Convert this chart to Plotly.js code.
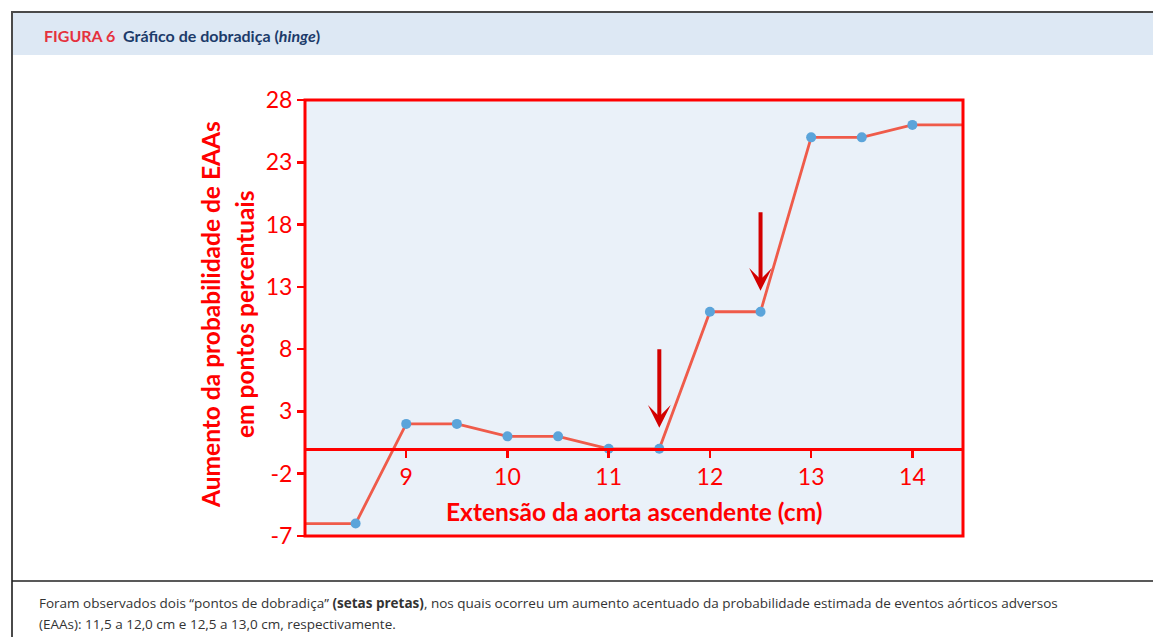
<!DOCTYPE html>
<html>
<head>
<meta charset="utf-8">
<script src="https://cdn.plot.ly/plotly-3.0.1.min.js"></script>
<style>
  html, body { margin: 0; padding: 0; background: #ffffff; }
  #chart { width: 1153px; height: 637px; }
</style>
</head>
<body>
<div id="chart"></div>
<script>
// ---- data ----
const aortaCm = [8.5, 9, 9.5, 10, 10.5, 11, 11.5, 12, 12.5, 13, 13.5, 14];
const probIncrease = [-6, 2, 2, 1, 1, 0, 0, 11, 11, 25, 25, 26];
const hingePointsCm = [11.5, 12.5];
const xRange = [8, 14.5];
const yTickVals = [-7, -2, 3, 8, 13, 18, 23, 28];
const yTickLabels = ['-7', '-2', '3', '8', '13', '18', '23', '28'];
const xTickVals = [9, 10, 11, 12, 13, 14];
const xTickLabels = ['9', '10', '11', '12', '13', '14'];

const figTitleLabel = 'FIGURA 6';
const figTitle = 'Gráfico de dobradiça (<i>hinge</i>)';
const xTitle = 'Extensão da aorta ascendente (cm)';
const yTitleLines = ['Aumento da probabilidade de EAAs', 'em pontos percentuais'];
const captionLines = [
  'Foram observados dois “pontos de dobradiça” <b>(setas pretas)</b>, nos quais ocorreu um aumento acentuado da probabilidade estimada de eventos aórticos adversos',
  '(EAAs): 11,5 a 12,0 cm e 12,5 a 13,0 cm, respectivamente.'
];

// ---- geometry helpers (pixel -> paper) ----
const W = 1153, H = 637;
const M = { l: 305, r: 190, t: 100, b: 101 };
const PW = W - M.l - M.r, PH = H - M.t - M.b;
const px = x => (x - M.l) / PW;
const py = y => (H - M.b - y) / PH;

const RED = '#ff0000';
const FONT = 'Lato, "Open Sans", sans-serif';

// line extends flat to the plot edges
const lineX = [xRange[0]].concat(aortaCm, [xRange[1]]);
const lineY = [probIncrease[0]].concat(probIncrease, [probIncrease[probIncrease.length - 1]]);

const traces = [
  { x: lineX, y: lineY, mode: 'lines', line: { color: '#ef5b4a', width: 2.8 },
    hoverinfo: 'skip', showlegend: false, cliponaxis: true },
  { x: aortaCm, y: probIncrease, mode: 'markers',
    marker: { color: '#5ba4da', size: 10 }, showlegend: false, cliponaxis: false }
];

const annotations = [];
// header
annotations.push({
  xref: 'paper', yref: 'paper', x: px(42), y: py(35), xanchor: 'left', yanchor: 'middle',
  showarrow: false, align: 'left',
  text: '<b><span style="color:#e5323e">' + figTitleLabel + '</span>\u00a0\u00a0' + figTitle + '</b>',
  font: { family: FONT, size: 16, color: '#1c3b6a' }
});
// caption
captionLines.forEach((t, i) => annotations.push({
  xref: 'paper', yref: 'paper', x: px(37), y: py(603 + i * 21), xanchor: 'left', yanchor: 'middle',
  showarrow: false, align: 'left', text: t,
  font: { family: '"Open Sans", Lato, sans-serif', size: 13.5, color: '#333333' }
}));
// y title (two lines, rotated)
yTitleLines.forEach((t, i) => annotations.push({
  xref: 'paper', yref: 'paper', x: px(210 + i * 34), y: py(315), xanchor: 'center', yanchor: 'middle',
  textangle: -90, showarrow: false, text: '<b>' + t + '</b>',
  font: { family: FONT, size: 24.5, color: RED }
}));
// x title
annotations.push({
  xref: 'paper', yref: 'paper', x: px(634), y: py(511), xanchor: 'center', yanchor: 'middle',
  showarrow: false, text: '<b>' + xTitle + '</b>',
  font: { family: FONT, size: 24.5, color: RED }
});
// hinge arrows
hingePointsCm.forEach(h => {
  const idx = aortaCm.indexOf(h);
  annotations.push({
    xref: 'x', yref: 'y', x: h, y: probIncrease[idx], ax: 0, ay: -101,
    text: '', showarrow: true, arrowhead: 3, arrowsize: 0.95, arrowwidth: 4,
    arrowcolor: '#d30000', standoff: 21
  });
});

const shapes = [
  // header band
  { type: 'rect', xref: 'paper', yref: 'paper', x0: px(12), x1: px(1160), y0: py(12), y1: py(55),
    fillcolor: '#dde8f4', line: { width: 0 }, layer: 'below' },
  // outer frame lines
  { type: 'line', xref: 'paper', yref: 'paper', x0: px(12), x1: px(1160), y0: py(12), y1: py(12),
    line: { color: '#4a4a4a', width: 2 } },
  { type: 'line', xref: 'paper', yref: 'paper', x0: px(12), x1: px(12), y0: py(11), y1: py(640),
    line: { color: '#4a4a4a', width: 2 } },
  { type: 'line', xref: 'paper', yref: 'paper', x0: px(12), x1: px(1160), y0: py(581), y1: py(581),
    line: { color: '#222222', width: 1.5 } },
  // red plot frame
  { type: 'rect', xref: 'paper', yref: 'paper', x0: 0, x1: 1, y0: 0, y1: 1,
    line: { color: RED, width: 3 }, fillcolor: 'rgba(0,0,0,0)' }
];

const layout = {
  width: W, height: H,
  margin: M,
  paper_bgcolor: '#ffffff',
  plot_bgcolor: '#eaf1f9',
  showlegend: false,
  font: { family: FONT, color: RED },
  xaxis: {
    range: xRange, anchor: 'free', position: (0 - yTickVals[0]) / (yTickVals[yTickVals.length - 1] - yTickVals[0]),
    tickvals: xTickVals, ticktext: xTickLabels,
    showline: true, linecolor: RED, linewidth: 3,
    ticks: 'outside', ticklen: 7, tickwidth: 2.5, tickcolor: RED,
    tickfont: { family: FONT, size: 23, color: RED },
    showgrid: false, zeroline: false, fixedrange: true
  },
  yaxis: {
    range: [yTickVals[0], yTickVals[yTickVals.length - 1]],
    tickvals: yTickVals, ticktext: yTickLabels,
    showline: false,
    ticks: 'outside', ticklen: 7, tickwidth: 2.5, tickcolor: RED,
    tickfont: { family: FONT, size: 23, color: RED },
    showgrid: false, zeroline: false, fixedrange: true
  },
  annotations: annotations,
  shapes: shapes
};

Plotly.newPlot('chart', traces, layout, { displayModeBar: false, staticPlot: true });
</script>
</body>
</html>
